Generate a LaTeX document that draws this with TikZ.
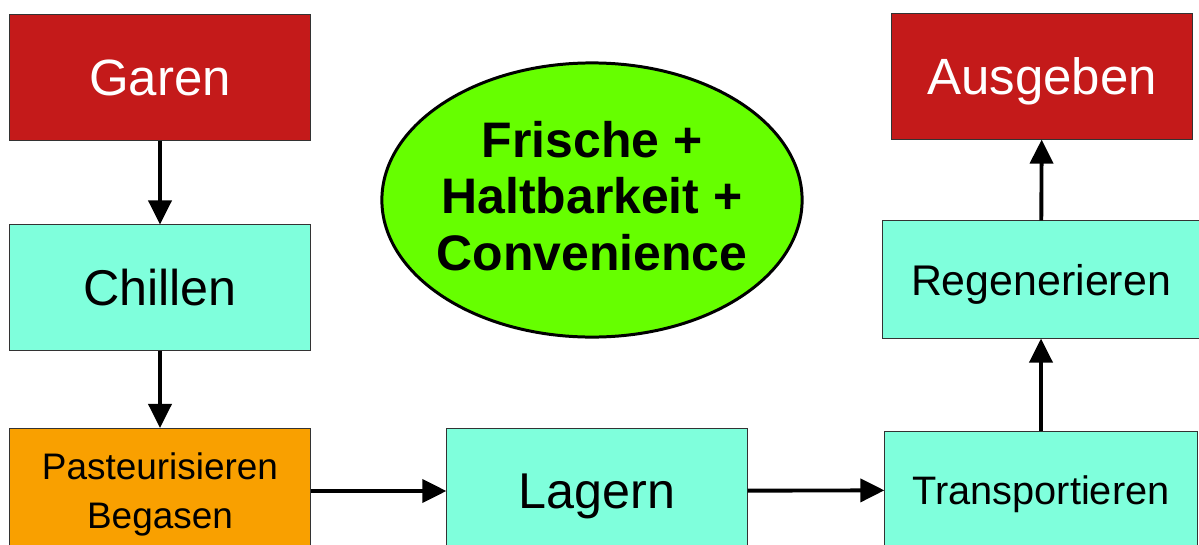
\documentclass[tikz,border=0pt]{standalone}
\usepackage{fontspec}
\setmainfont{Liberation Sans}
\usetikzlibrary{arrows.meta,shapes.geometric}
\definecolor{garenrot}{HTML}{C41A1A}
\definecolor{tuerkis}{HTML}{7FFFDC}
\definecolor{orangegelb}{HTML}{F9A000}
\definecolor{hellgruen}{HTML}{66FF00}
\begin{document}
\begin{tikzpicture}[
    x=0.01cm,y=-0.01cm,
    box/.style={rectangle,draw=black!80,line width=0.3pt,inner sep=0pt,align=center,text depth=0pt},
    redbox/.style={box,fill=garenrot,text=white,font=\fontsize{14.5}{16}\selectfont},
    tealbox/.style={box,fill=tuerkis},
    orangebox/.style={box,fill=orangegelb},
    pfeil/.style={line width=1.1pt,-{Triangle[length=0.24cm,width=0.23cm]}}
]
\clip (0,0) rectangle (1199,545);
\fill[white] (0,0) rectangle (1199,545);

% Linke Spalte
\node[redbox,minimum width=3cm,minimum height=1.25cm] (garen) at (160,77.5) {Garen};
\node[tealbox,minimum width=3cm,minimum height=1.25cm,font=\fontsize{14.3}{16}\selectfont] (chillen) at (160,287.5) {Chillen};
\node[orangebox,minimum width=3cm,minimum height=1.25cm,font=\fontsize{10.5}{14}\selectfont] (pasteur) at (160,491) {Pasteurisieren\\Begasen};

% Mitte
\node[tealbox,minimum width=3cm,minimum height=1.25cm,font=\fontsize{14.3}{16}\selectfont] (lagern) at (597,491) {Lagern};
\node[ellipse,draw,line width=0.85pt,fill=hellgruen,inner sep=0pt,minimum width=4.2cm,minimum height=2.74cm] (ziel) at (592,200) {};
\node[align=center,inner sep=0pt,font=\bfseries\fontsize{14.2}{16}\selectfont] (zieltext) at (592,196)
      {Frische +\\Haltbarkeit +\\Convenience};

% Rechte Spalte
\node[tealbox,minimum width=3.12cm,minimum height=1.17cm,font=\fontsize{11.3}{14}\selectfont] (transport) at (1041,490) {Transportieren};
\node[tealbox,minimum width=3.16cm,minimum height=1.17cm,font=\fontsize{12.2}{14}\selectfont] (regen) at (1041,279.5) {Regenerieren};
\node[redbox,minimum width=3cm,minimum height=1.25cm] (ausgeben) at (1042,76.5) {Ausgeben};

% Pfeile
\draw[pfeil] (garen) -- (chillen);
\draw[pfeil] (chillen) -- (pasteur);
\draw[pfeil] (pasteur) -- (lagern);
\draw[pfeil] (lagern) -- (transport);
\draw[pfeil] (transport) -- (regen);
\draw[pfeil] (regen) -- (ausgeben);

\end{tikzpicture}
\end{document}
